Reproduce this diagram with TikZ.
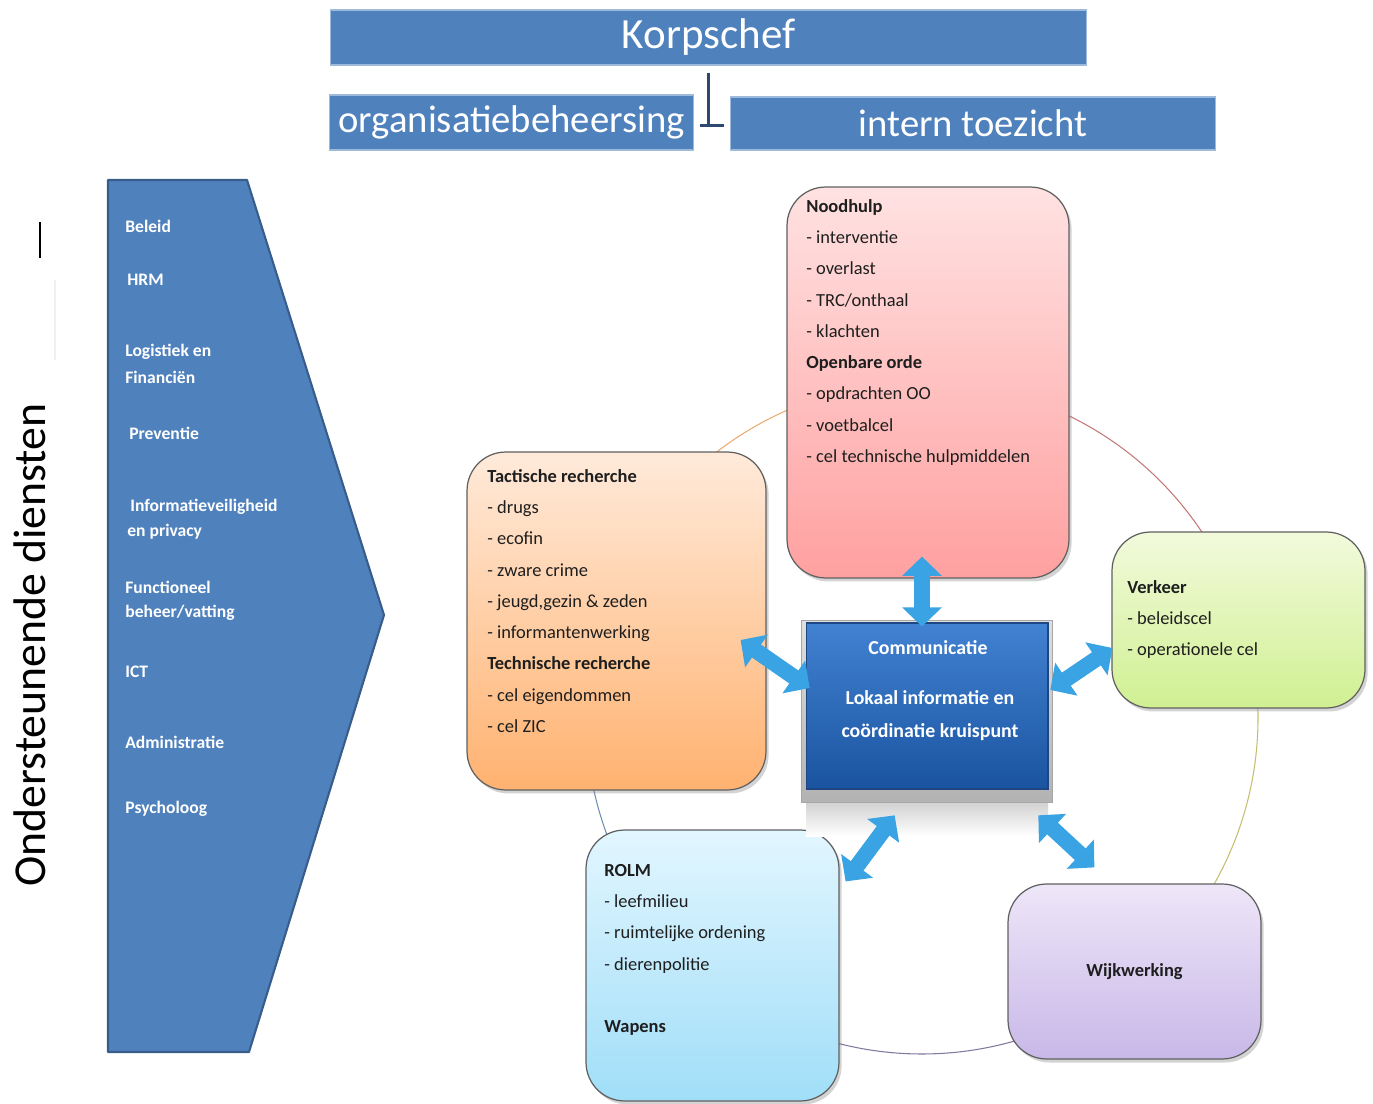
\documentclass[tikz,border=0pt]{standalone}
\usepackage{fontspec}
\setmainfont{Carlito}
\usetikzlibrary{calc,arrows.meta,shadows}
\definecolor{hblue}{HTML}{4F81BD}
\definecolor{hdark}{HTML}{385D8A}
\definecolor{arrowblue}{HTML}{3AA3E3}
\definecolor{txt}{HTML}{1E1E1E}
\begin{document}
\begin{tikzpicture}[x=0.02cm,y=-0.02cm,
  hdr/.style={fill=hblue, draw=hblue!55!white, line width=0.6pt, text=white, font=\fontsize{22}{26}\selectfont, inner sep=0},
  box/.style={rounded corners=22pt, draw=gray!75!black, line width=0.7pt, drop shadow={shadow xshift=1.5pt, shadow yshift=-2pt, opacity=0.35}},
  boxtext/.style={align=left, anchor=north west, inner sep=0, text=txt, font=\fontsize{10.5}{17.8}\selectfont},
  chev/.style={text=white, font=\bfseries\fontsize{10}{12}\selectfont, anchor=west, inner sep=0},
  commtext/.style={text=white, font=\bfseries\fontsize{11.3}{13}\selectfont, inner sep=0},
  dbl/.style={line width=9pt, draw=arrowblue, {Triangle[width=22pt,length=11pt]}-{Triangle[width=22pt,length=11pt]}},
  conn/.style={draw=hdark!80!black, line width=1.6pt},
  ring/.style={line width=0.6pt}
]
\useasboundingbox (0,0) rectangle (1373,1104);

% top header boxes
\node[hdr, font=\fontsize{24.5}{28}\selectfont, minimum width=15.14cm, minimum height=1.10cm] (korps) at (708.5,37.5) {Korpschef};
\node[hdr, minimum width=7.30cm, minimum height=1.10cm] (org) at (511.5,122.5) {organisatiebeheersing};
\node[hdr, minimum width=9.72cm, minimum height=1.06cm] (intern) at (973,123.5) {intern toezicht};
\draw[conn] ([yshift=-4pt]korps.south) -- ($(korps.south |- org.east)+(0,3)$);
\draw[conn] ($(org.east)+(6,3)$) -- ($(intern.west)+(-6,2)$);

% left side
\node[rotate=90, text=black, font=\fontsize{26}{30}\selectfont, inner sep=0] (ond) at (30,645) {Ondersteunende diensten};
\draw[black, line width=1.2pt] (40,222) -- (40,258);
\draw[gray!12, line width=0.6pt] (55,280) -- (55,360);

\path[fill=hblue, draw=hdark, line width=1.2pt, line join=round] (108,180) -- (247,180) -- (384,615) -- (249,1052) -- (108,1052) -- cycle;
\node[chev] (c1) at (125,226) {Beleid};
\node[chev] (c2) at (127,280) {HRM};
\node[chev] (c3) at (125,352) {Logistiek en};
\node[chev] (c3b) at (125,377) {Financiën};
\node[chev] (c4) at (129,433) {Preventie};
\node[chev] (c5) at (130,507) {Informatieveiligheid};
\node[chev] (c5b) at (127,532) {en privacy};
\node[chev] (c6) at (125,587) {Functioneel};
\node[chev] (c6b) at (125,613) {beheer/vatting};
\node[chev] (c7) at (125,672) {ICT};
\node[chev] (c8) at (125,742) {Administratie};
\node[chev] (c9) at (125,809) {Psycholoog};

% ring
\draw[ring, draw={rgb,255:red,236;green,170;blue,110}] (922,718) ++(200:336) arc[start angle=200, end angle=270, radius=336];
\draw[ring, draw={rgb,255:red,196;green,120;blue,120}] (922,718) ++(270:336) arc[start angle=270, end angle=340, radius=336];
\draw[ring, draw={rgb,255:red,196;green,190;blue,110}] (922,718) ++(340:336) arc[start angle=340, end angle=410, radius=336];
\draw[ring, draw={rgb,255:red,130;green,118;blue,160}] (922,718) ++(50:336) arc[start angle=50, end angle=120, radius=336];
\draw[ring, draw={rgb,255:red,112;green,140;blue,180}] (922,718) ++(120:336) arc[start angle=120, end angle=200, radius=336];

% boxes
\node[box, top color={rgb,255:red,255;green,226;blue,226}, bottom color={rgb,255:red,255;green,160;blue,160}, minimum width=5.64cm, minimum height=7.82cm] (nood) at (928,382.5) {};
\node[boxtext] (noodt) at (806,199) {\textbf{Noodhulp}\\- interventie\\- overlast\\- TRC/onthaal\\- klachten\\\textbf{Openbare orde}\\- opdrachten OO\\- voetbalcel\\- cel technische hulpmiddelen};

\node[box, top color={rgb,255:red,255;green,234;blue,218}, bottom color={rgb,255:red,255;green,178;blue,112}, minimum width=5.98cm, minimum height=6.76cm] (tact) at (616.5,621) {};
\node[boxtext] (tactt) at (487,469) {\textbf{Tactische recherche}\\- drugs\\- ecofin\\- zware crime\\- jeugd,gezin \& zeden\\- informantenwerking\\\textbf{Technische recherche}\\- cel eigendommen\\- cel ZIC};

\node[box, top color={rgb,255:red,242;green,250;blue,220}, bottom color={rgb,255:red,208;green,240;blue,146}, minimum width=5.06cm, minimum height=3.52cm] (verk) at (1238.5,620) {};
\node[boxtext] (verkt) at (1127,580) {\textbf{Verkeer}\\- beleidscel\\- operationele cel};

\node[box, top color={rgb,255:red,226;green,246;blue,255}, bottom color={rgb,255:red,160;green,222;blue,248}, minimum width=5.06cm, minimum height=5.42cm] (rolm) at (712.5,965.5) {};
\node[boxtext] (rolmt) at (604,864) {\textbf{ROLM}\\- leefmilieu\\- ruimtelijke ordening\\- dierenpolitie\\\mbox{}\\\textbf{Wapens}};

\node[box, top color={rgb,255:red,238;green,230;blue,248}, bottom color={rgb,255:red,200;green,184;blue,232}, minimum width=5.06cm, minimum height=3.50cm] (wijk) at (1134.5,971.5) {};
\node[text=txt, font=\bfseries\fontsize{10.5}{13}\selectfont, inner sep=0] (wijkt) at (wijk.center) {Wijkwerking};

% centre
\shade[top color=gray!35, bottom color=white] (806,803) rectangle (1048,836);
\node[draw=gray!70, top color=gray!25, bottom color=gray!60, minimum width=5.02cm, minimum height=3.64cm, inner sep=0] (comm) at (926.5,711) {};
\node[draw={rgb,255:red,30;green,70;blue,130}, line width=0.6pt, top color={rgb,255:red,66;green,130;blue,210}, bottom color={rgb,255:red,26;green,84;blue,160}, minimum width=4.84cm, minimum height=3.32cm, inner sep=0] (commin) at (927,706) {};
\node[commtext] (ct1) at (928,648) {Communicatie};
\node[commtext] (ct2) at (930,698) {Lokaal informatie en};
\node[commtext] (ct3) at (930,732) {coördinatie kruispunt};

% double arrows
\draw[dbl] ($(nood.south)+(-6,-22)$) -- ($(comm.north)+(-4.5,7)$);
\draw[dbl] ($(tact.east)+(-26,19)$) -- ($(comm.west)+(9,-23)$);
\draw[dbl] ($(comm.east)+(-2,-21)$) -- ($(verk.west)+(1,28)$);
\draw[dbl] ($(rolm.north east)+(6,52)$) -- ($(comm.south west)+(94,13)$);
\draw[dbl] ($(comm.south east)+(-14,13)$) -- ($(wijk.north west)+(87,-16)$);
\end{tikzpicture}
\end{document}
